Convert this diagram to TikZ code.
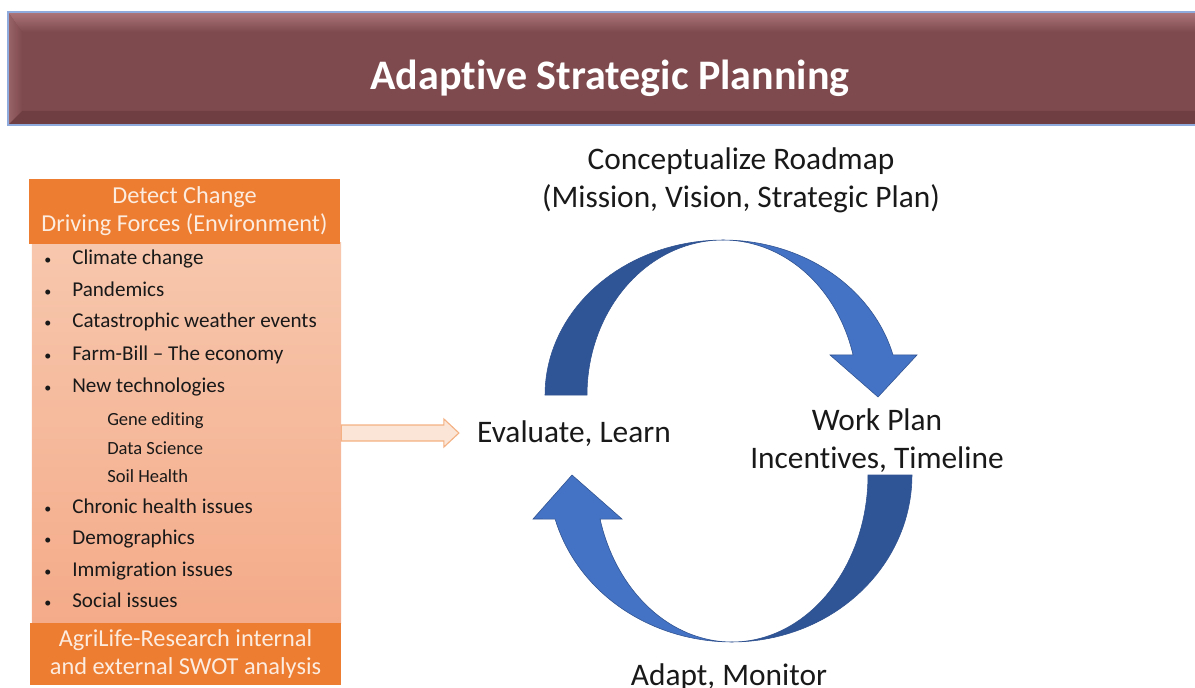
\documentclass[tikz,border=0pt]{standalone}
\usepackage{fontspec}
\setmainfont{Carlito}[Ligatures=NoCommon]
\usetikzlibrary{arrows.meta,positioning,calc}

\definecolor{banner}{RGB}{127,74,78}
\definecolor{bevelhi}{RGB}{172,118,122}
\definecolor{bevellow}{RGB}{110,62,66}
\definecolor{bannerline}{RGB}{143,170,220}
\definecolor{orangeA}{RGB}{237,125,49}
\definecolor{peachA}{RGB}{247,199,173}
\definecolor{peachB}{RGB}{244,171,137}
\definecolor{peachL}{RGB}{251,229,214}
\definecolor{peachE}{RGB}{244,177,131}
\definecolor{creamtxt}{RGB}{252,236,224}
\definecolor{inktxt}{RGB}{25,25,25}
\definecolor{blueL}{RGB}{68,114,196}
\definecolor{blueD}{RGB}{47,85,151}
\definecolor{blueE}{RGB}{47,82,143}

\newcommand{\bul}{\makebox[0.75cm][l]{\hspace{0.05cm}\fontsize{10}{10}\selectfont\textbullet}}

\begin{document}
\begin{tikzpicture}[x=0.025cm, y=-0.025cm,
  bar/.style={fill=orangeA, minimum width=7.75cm, inner sep=0pt, align=center, text=creamtxt, font=\fontsize{17.3}{19.8}\selectfont},
  item/.style={anchor=base west, inner sep=0pt, text=inktxt, font=\fontsize{15}{18}\selectfont},
  subitem/.style={item, font=\fontsize{13.2}{16}\selectfont},
  lbl/.style={align=center, inner sep=0pt, text=inktxt, font=\fontsize{22.3}{27}\selectfont},
  backside/.style={fill=blueD, draw=blueE, line width=0.4pt},
  frontside/.style={fill=blueL, draw=blueE, line width=0.4pt},
  blockarr/.style={fill=peachL, draw=peachE, line width=0.8pt},
]
\useasboundingbox (0,0) rectangle (1195,688);

% Title banner with bevelled edges
\fill[banner] (8,12) rectangle (1205,125);
\shade[top color=bevelhi, bottom color=banner] (8,12) -- (1205,12) -- (1205,32) -- (22,32) -- cycle;
\fill[bevellow] (8,125) -- (22,111) -- (1205,111) -- (1205,125) -- cycle;
\shade[left color=bevelhi!60!banner, right color=banner] (8,12) -- (22,32) -- (22,111) -- (8,125) -- cycle;
\draw[bannerline, line width=0.8pt] (8,12) rectangle (1205,125);
\node[anchor=base, text=white, font=\bfseries\fontsize{29.9}{36}\selectfont] (title) at (610,90) {Adaptive Strategic Planning};

% Driving forces panel
\node[minimum width=7.725cm, minimum height=9.5cm, inner sep=0pt, top color=peachA, bottom color=peachB] (body) at (186.5,433) {};
\node[bar, minimum height=1.625cm] (head) at (184.5,211.5) {\raisebox{-3pt}{Detect Change}\\\raisebox{-3pt}{Driving Forces (Environment)}};
\node[bar, minimum height=1.55cm] (foot) at (185.5,654) {AgriLife-Research internal\\and external SWOT analysis};

\node[item] (i1) at (42,265) {\bul Climate change};
\node[item] (i2) at (42,297) {\bul Pandemics};
\node[item] (i3) at (42,328) {\bul Catastrophic weather events};
\node[item] (i4) at (42,360) {\bul Farm-Bill -- The economy};
\node[item] (i5) at (42,392) {\bul New technologies};
\node[subitem] (s1) at (107,425) {Gene editing};
\node[subitem] (s2) at (107,454) {Data Science};
\node[subitem] (s3) at (107,482) {Soil Health};
\node[item] (i6) at (42,513) {\bul Chronic health issues};
\node[item] (i7) at (42,544) {\bul Demographics};
\node[item] (i8) at (42,576) {\bul Immigration issues};
\node[item] (i9) at (42,607) {\bul Social issues};

% Cycle labels
\node[lbl] (roadmap) at (741,180) {Conceptualize Roadmap\\(Mission, Vision, Strategic Plan)};
\node[lbl] (work) at (877,441) {Work Plan\\Incentives, Timeline};
\node[lbl, anchor=base] (eval) at (574,442) {Evaluate, Learn};
\node[lbl, anchor=base] (adapt) at (729,685) {Adapt, Monitor};

% Block arrow from the panel to the evaluation step
\coordinate (tip) at ($(body.east -| eval.west)+(-18,0)$);
\draw[blockarr] ($(body.east)+(0,-8)$) -- ($(tip)+(-15,-8)$) -- ($(tip)+(-15,-14)$) -- (tip)
  -- ($(tip)+(-15,14)$) -- ($(tip)+(-15,8)$) -- ($(body.east)+(0,8)$) -- cycle;

% Upper curved arrow
\draw[backside] plot[domain=180:90, samples=40] ({723+178*cos(\x)},{395-155*sin(\x)})
  -- plot[domain=90:180, samples=40] ({723+136*cos(\x)},{395-155*sin(\x)}) -- cycle;
\draw[frontside] plot[domain=90:15, samples=40] ({723+176*cos(\x)},{395-155*sin(\x)})
  -- (917,355) -- (878,397) -- (830,355)
  -- plot[domain=15:90, samples=40] ({723+134.6*cos(\x)},{395-155*sin(\x)}) -- cycle;

% Lower curved arrow
\draw[backside] plot[domain=0:90, samples=40] ({732+180*cos(\x)},{475+167*sin(\x)})
  -- plot[domain=90:0, samples=40] ({732+136*cos(\x)},{475+167*sin(\x)}) -- cycle;
\draw[frontside] plot[domain=90:164.7, samples=40] ({732+183.4*cos(\x)},{475+167*sin(\x)})
  -- (533,519) -- (572,475) -- (622,519)
  -- plot[domain=164.7:90, samples=40] ({732+136.8*cos(\x)},{475+167*sin(\x)}) -- cycle;

\end{tikzpicture}
\end{document}
